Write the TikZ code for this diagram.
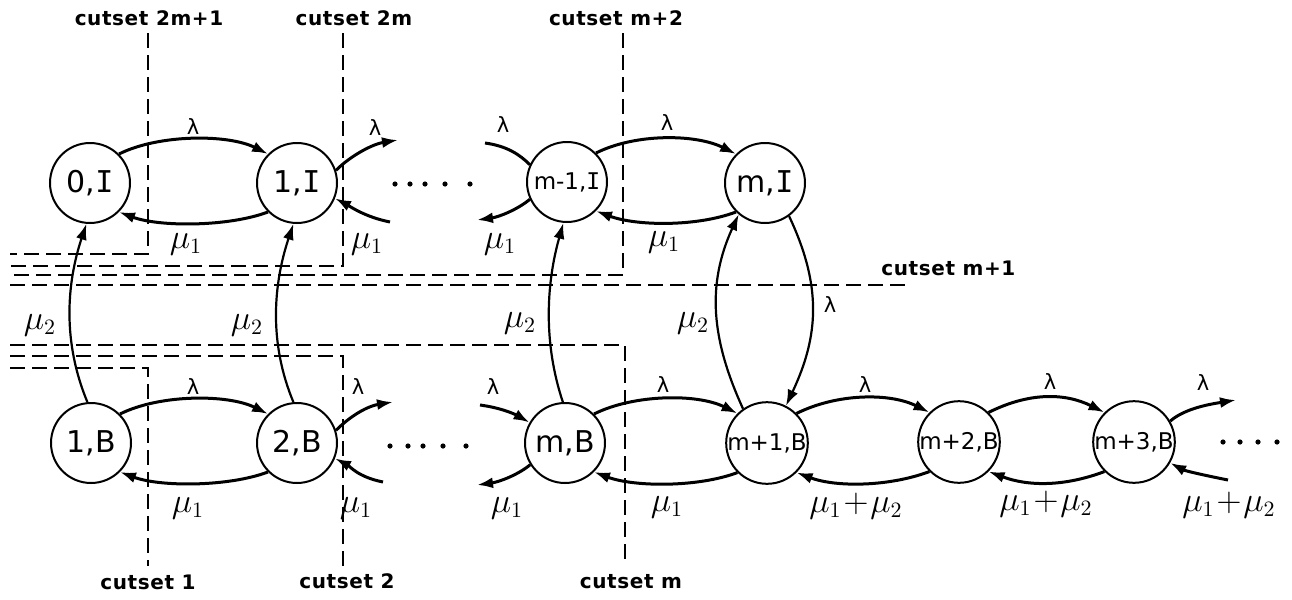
\documentclass[tikz,border=0pt]{standalone}
\usepackage{fontspec}
\setsansfont{DejaVu Sans}
\newfontfamily\statefont{DejaVu Sans}
\newfontfamily\barIfont{DejaVu Sans Mono}
\newfontfamily\cutfont[LetterSpace=3]{DejaVu Sans}
\usetikzlibrary{arrows.meta}
% the serifed capital I of the state names
\newcommand\Ibar{{\barIfont I}}

\tikzset{
  state/.style={circle, draw, line width=1pt, fill=white, minimum size=40pt,
    inner sep=0pt, font=\statefont\fontsize{15}{15}\selectfont},
  statesm/.style={state, font=\statefont\fontsize{11.5}{12}\selectfont},
  flow/.style={line width=1.5pt, -{Latex[length=8pt,width=5.5pt]}},
  flowline/.style={line width=1.5pt},
  vflow/.style={line width=1.1pt, -{Latex[length=8pt,width=5.5pt]}},
  cut/.style={line width=1.3pt, dash pattern=on 7.5pt off 3.5pt},
  lam/.style={font=\statefont\fontsize{10.5}{11}\selectfont, inner sep=0pt},
  mu/.style={font=\fontsize{16}{17}\selectfont, inner sep=0pt},
  cutlbl/.style={font=\cutfont\bfseries\fontsize{10}{11}\selectfont, inner sep=0pt},
  dot/.style={circle, fill, inner sep=0pt, minimum size=2.6pt},
}

\begin{document}
\begin{tikzpicture}[x=0.5pt, y=-0.5pt]
\useasboundingbox (0,0) rectangle (1292,600);

% ---- cutsets from above (2m+1, 2m, m+2) and the horizontal one (m+1)
\draw[cut] (148,33) -- (148,254) -- (10,254);
\draw[cut] (343,33) -- (343,266) -- (10,266);
\draw[cut] (623,33) -- (623,275) -- (10,275);
\draw[cut] (10,285) -- (905,285);
% ---- cutsets from below (m, 2, 1)
\draw[cut] (10,345) -- (625,345) -- (625,566);
\draw[cut] (10,356) -- (343,356) -- (343,566);
\draw[cut] (10,368) -- (148,368) -- (148,566);

\node[cutlbl] (c2m1) at (149,18) {cutset 2m+1};
\node[cutlbl] (c2m) at (354,18) {cutset 2m};
\node[cutlbl] (cm2) at (616,18) {cutset m+2};
\node[cutlbl, anchor=west] (cm1) at (881,268) {cutset m+1};
\node[cutlbl] (c1) at (148,582) {cutset 1};
\node[cutlbl] (c2) at (347,581) {cutset 2};
\node[cutlbl] (cm) at (631,582) {cutset m};

% ---- states
\node[state] (s0I) at (90,183) {0,\Ibar};
\node[state] (s1I) at (297,183) {1,\Ibar};
\node[statesm] (sm1I) at (567,182) {m-1,\Ibar};
\node[state] (smI) at (765,183) {m,\Ibar};
\node[state] (s1B) at (91,443) {1,B};
\node[state] (s2B) at (297,443) {2,B};
\node[state] (smB) at (565,443) {m,B};
\node[statesm] (smp1B) at (767,443) {m+1,B};
\node[statesm] (smp2B) at (959,442) {m+2,B};
\node[statesm] (smp3B) at (1134,442) {m+3,B};

% ---- horizontal transitions
\draw[flow] (s0I.45) .. controls +(40,-20) and +(-40,-20) .. (s1I.135);
\draw[flow] (s1I.225) .. controls +(-40,15) and +(40,15) .. (s0I.-45);
\draw[flow] (sm1I.45) .. controls +(40,-20) and +(-40,-20) .. (smI.135);
\draw[flow] (smI.225) .. controls +(-40,15) and +(40,15) .. (sm1I.-45);
\draw[flow] (s1B.45) .. controls +(40,-20) and +(-40,-20) .. (s2B.135);
\draw[flow] (s2B.225) .. controls +(-40,15) and +(40,15) .. (s1B.-45);
\draw[flow] (smB.45) .. controls +(40,-20) and +(-40,-20) .. (smp1B.135);
\draw[flow] (smp1B.225) .. controls +(-40,15) and +(40,15) .. (smB.-45);
\draw[flow] (smp1B.45) .. controls +(40,-20) and +(-40,-20) .. (smp2B.135);
\draw[flow] (smp2B.225) .. controls +(-40,15) and +(40,15) .. (smp1B.-45);
\draw[flow] (smp2B.45) .. controls +(40,-20) and +(-40,-20) .. (smp3B.135);
\draw[flow] (smp3B.225) .. controls +(-40,15) and +(40,15) .. (smp2B.-45);

\node[lam] (l01) at (193,127) {λ};
\node[mu] (u01) at (186,244) {$\mu_1$};
\node[lam] (lm1) at (667,123) {λ};
\node[mu] (um1) at (664,242) {$\mu_1$};
\node[lam] (l12) at (193,387) {λ};
\node[mu] (u12) at (188,508) {$\mu_1$};
\node[lam] (lmb) at (663,385) {λ};
\node[mu] (umb) at (667,507) {$\mu_1$};
\node[lam] (lb2) at (865,385) {λ};
\node[mu] (ub2) at (856,506) {$\mu_1\!+\!\mu_2$};
\node[lam] (lb3) at (1050,382) {λ};
\node[mu] (ub3) at (1046,504) {$\mu_1\!+\!\mu_2$};

% ---- open ends of the chains
\coordinate (o1I) at (398,140);
\coordinate (i1I) at (390,222);
\draw[flow] (s1I.18) .. controls +(15,-15) and +(-25,4) .. (o1I);
\draw[flow] (i1I) .. controls +(-25,-5) and +(15,8) .. (s1I.-22);
\node[lam] (l1o) at (375,128) {λ};
\node[mu] (u1o) at (367,244) {$\mu_1$};

\coordinate (o2B) at (393,402);
\coordinate (i2B) at (383,482);
\draw[flow] (s2B.18) .. controls +(15,-15) and +(-25,4) .. (o2B);
\draw[flow] (i2B) .. controls +(-25,-5) and +(15,8) .. (s2B.-22);
\node[lam] (l2o) at (358,387) {λ};
\node[mu] (u2o) at (356,508) {$\mu_1$};

\coordinate (im1I) at (485,143);
\coordinate (om1I) at (477,220);
\draw[flowline] (im1I) .. controls +(22,3) and +(-10,-10) .. (sm1I.155);
\draw[flow] (sm1I.205) .. controls +(-12,10) and +(22,-3) .. (om1I);
\node[lam] (lmi) at (503,125) {λ};
\node[mu] (umi) at (500,244) {$\mu_1$};

\coordinate (imB) at (480,405);
\coordinate (omB) at (477,485);
\draw[flow] (imB) .. controls +(22,3) and +(-14,-8) .. (smB.150);
\draw[flow] (smB.212) .. controls +(-12,10) and +(22,-3) .. (omB);
\node[lam] (lmbi) at (493,387) {λ};
\node[mu] (umbo) at (507,508) {$\mu_1$};

\coordinate (o3B) at (1236,400);
\coordinate (i3B) at (1228,480);
\draw[flow] (smp3B.30) .. controls +(15,-13) and +(-25,4) .. (o3B);
\draw[flow] (i3B) .. controls +(-25,-5) and +(15,8) .. (smp3B.-30);
\node[lam] (l3o) at (1203,383) {λ};
\node[mu] (u3o) at (1229,505) {$\mu_1\!+\!\mu_2$};

% ---- dots for the omitted states
\foreach \x [count=\i] in {395,410,425,445,470}
  \node[dot] (dI\i) at (\x,184) {};
\foreach \x [count=\i] in {390,408,423,443,466}
  \node[dot] (dB\i) at (\x,446) {};
\foreach \x [count=\i] in {1223,1240,1258,1277}
  \node[dot] (dR\i) at (\x,442) {};

% ---- vertical transitions
\draw[vflow] (s1B.95) .. controls +(-25,-60) and +(-20,60) .. (s0I.265);
\draw[vflow] (s2B.95) .. controls +(-25,-60) and +(-20,60) .. (s1I.265);
\draw[vflow] (smB.93) .. controls +(-20,-60) and +(-17,60) .. (sm1I.265);
\draw[vflow] (smp1B.125) .. controls +(-32,-70) and +(-32,70) .. (smI.230);
\draw[vflow] (smI.-54) .. controls +(33,70) and +(33,-70) .. (smp1B.63);

\node[mu] (v0) at (40,325) {$\mu_2$};
\node[mu] (v1) at (247,325) {$\mu_2$};
\node[mu] (vm1) at (520,323) {$\mu_2$};
\node[mu] (vm) at (693,323) {$\mu_2$};
\node[lam] (vlam) at (830,305) {λ};
\end{tikzpicture}
\end{document}
